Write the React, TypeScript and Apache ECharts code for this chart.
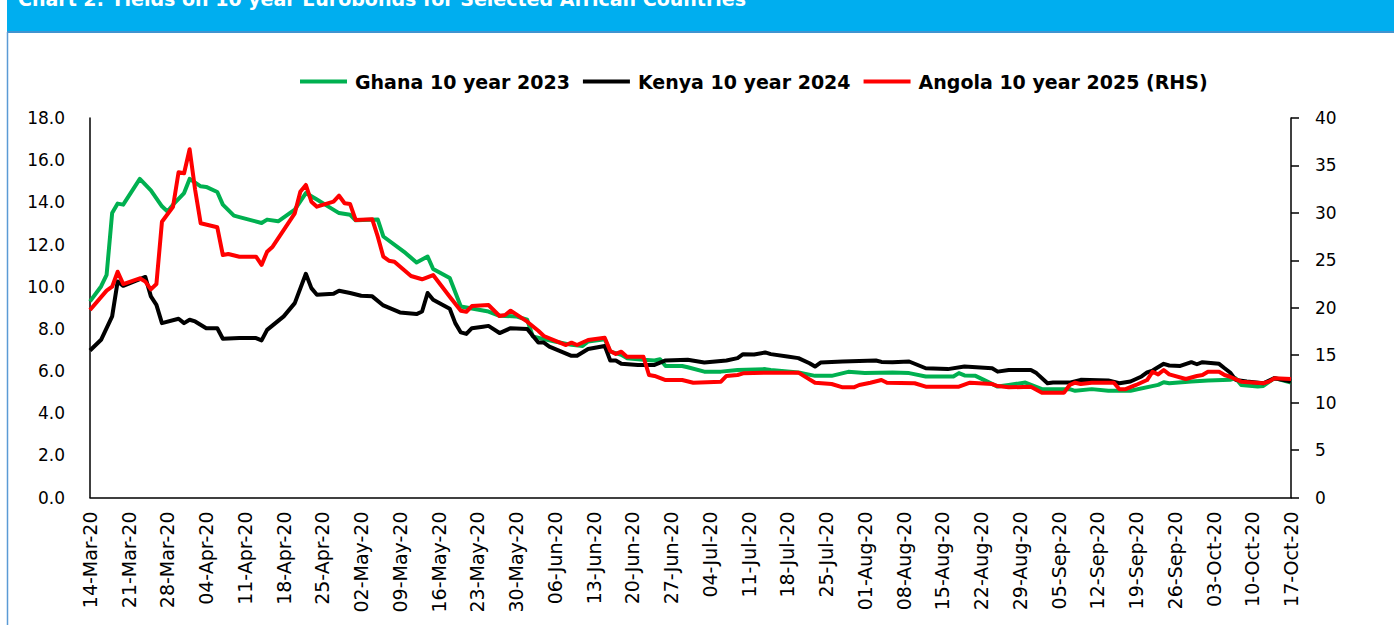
import React, { useEffect, useRef } from "react";
import * as echarts from "echarts";

// ---- categories (daily, 14-Mar-20 .. 17-Oct-20) ----
const MONTHS = ["Jan", "Feb", "Mar", "Apr", "May", "Jun", "Jul", "Aug", "Sep", "Oct", "Nov", "Dec"];
const START_UTC = Date.UTC(2020, 2, 14);
const N_DAYS = 218;
const categories: string[] = [];
for (let i = 0; i < N_DAYS; i++) {
  const d = new Date(START_UTC + i * 86400000);
  const dd = String(d.getUTCDate()).padStart(2, "0");
  categories.push(`${dd}-${MONTHS[d.getUTCMonth()]}-20`);
}

const seriesNames = ["Ghana 10 year 2023", "Kenya 10 year 2024", "Angola 10 year 2025 (RHS)"];

// [day index from 14-Mar-20, yield]
const ghana: [number, number][] = [
  [0, 9.3], [2, 10.01], [3, 10.56], [4, 13.49], [5, 13.94], [6, 13.89], [9, 15.11], [11, 14.57],
  [13, 13.81], [14, 13.57], [15, 13.89], [17, 14.44], [18, 15.11], [20, 14.76], [21, 14.73],
  [23, 14.49], [24, 13.89], [26, 13.37], [27, 13.3], [31, 13.02], [32, 13.18], [34, 13.1],
  [37, 13.65], [39, 14.44], [41, 14.13], [43, 13.81], [45, 13.49], [47, 13.41], [48, 13.15],
  [52, 13.18], [53, 12.38], [57, 11.6], [59, 11.15], [61, 11.43], [62, 10.84], [65, 10.41],
  [67, 9.06], [71, 8.87], [72, 8.82], [74, 8.62], [77, 8.59], [79, 8.43], [80, 7.64], [82, 7.51],
  [84, 7.4], [87, 7.24], [89, 7.19], [90, 7.4], [93, 7.51], [94, 6.92], [96, 6.77], [97, 6.61],
  [100, 6.53], [102, 6.5], [103, 6.56], [104, 6.24], [107, 6.24], [108, 6.18], [111, 5.97],
  [114, 5.97], [117, 6.05], [122, 6.09], [123, 6.05], [128, 5.93], [131, 5.77], [134, 5.77],
  [137, 5.96], [140, 5.9], [145, 5.93], [148, 5.9], [151, 5.74], [156, 5.74], [157, 5.9],
  [158, 5.79], [160, 5.77], [164, 5.26], [166, 5.34], [169, 5.45], [172, 5.14], [177, 5.14],
  [178, 5.06], [181, 5.14], [184, 5.06], [188, 5.06], [193, 5.34], [194, 5.47], [195, 5.42],
  [199, 5.5], [202, 5.55], [206, 5.58], [207, 5.66], [208, 5.34], [211, 5.26], [212, 5.29],
  [214, 5.66], [217, 5.45],
];

const kenya: [number, number][] = [
  [0, 6.97], [2, 7.48], [4, 8.59], [5, 10.25], [6, 10.04], [10, 10.46], [11, 9.54], [12, 9.14],
  [13, 8.27], [16, 8.48], [17, 8.27], [18, 8.43], [19, 8.35], [21, 8.03], [23, 8.03], [24, 7.53],
  [27, 7.56], [30, 7.56], [31, 7.45], [32, 7.95], [35, 8.59], [37, 9.22], [39, 10.61], [40, 9.93],
  [41, 9.62], [44, 9.66], [45, 9.81], [47, 9.7], [49, 9.57], [51, 9.54], [53, 9.11], [56, 8.78],
  [59, 8.7], [60, 8.82], [61, 9.7], [62, 9.38], [65, 8.95], [66, 8.27], [67, 7.83], [68, 7.76],
  [69, 8.03], [71, 8.1], [72, 8.14], [74, 7.8], [76, 8.03], [79, 7.99], [81, 7.35], [82, 7.35],
  [83, 7.16], [87, 6.72], [88, 6.72], [90, 7.04], [93, 7.19], [94, 6.5], [95, 6.5], [96, 6.34],
  [99, 6.29], [102, 6.29], [104, 6.5], [108, 6.53], [111, 6.4], [115, 6.5], [117, 6.61],
  [118, 6.8], [120, 6.78], [122, 6.88], [123, 6.8], [126, 6.69], [128, 6.61], [130, 6.37],
  [131, 6.21], [132, 6.4], [136, 6.45], [139, 6.47], [142, 6.5], [143, 6.43], [145, 6.42],
  [148, 6.45], [151, 6.13], [155, 6.09], [158, 6.21], [163, 6.13], [164, 5.97], [166, 6.05],
  [170, 6.05], [171, 5.9], [173, 5.42], [174, 5.45], [177, 5.45], [179, 5.58], [184, 5.55],
  [186, 5.42], [188, 5.5], [190, 5.74], [191, 5.93], [192, 6.02], [194, 6.34], [195, 6.26],
  [197, 6.24], [199, 6.42], [200, 6.32], [201, 6.42], [204, 6.34], [205, 6.13], [206, 5.93],
  [207, 5.58], [209, 5.5], [212, 5.42], [214, 5.66], [215, 5.61], [217, 5.5],
];

const angola: [number, number][] = [
  [0, 19.76], [3, 21.8], [4, 22.22], [5, 23.8], [6, 22.5], [9, 23.1], [10, 22.75], [11, 21.94],
  [12, 22.5], [13, 29.07], [15, 30.65], [16, 34.28], [17, 34.17], [18, 36.7], [19, 32.41],
  [20, 28.9], [23, 28.48], [24, 25.56], [25, 25.67], [27, 25.38], [30, 25.38], [31, 24.51],
  [32, 25.91], [33, 26.44], [37, 29.95], [38, 32.23], [39, 32.94], [40, 31.18], [41, 30.65],
  [44, 31.18], [45, 31.81], [46, 31.01], [47, 30.93], [48, 29.25], [51, 29.32], [52, 27.49],
  [53, 25.38], [54, 24.96], [55, 24.85], [58, 23.35], [60, 23.0], [62, 23.45], [65, 21.16],
  [67, 19.69], [68, 19.58], [69, 20.18], [72, 20.29], [74, 19.13], [75, 19.24], [76, 19.69],
  [79, 18.53], [81, 17.58], [82, 17.02], [84, 16.53], [86, 16.07], [87, 16.32], [88, 16.07],
  [90, 16.6], [93, 16.84], [94, 15.44], [95, 15.13], [96, 15.37], [97, 14.84], [100, 14.84],
  [101, 12.91], [102, 12.81], [104, 12.38], [107, 12.38], [109, 12.1], [114, 12.21], [115, 12.81],
  [117, 12.91], [118, 13.09], [123, 13.16], [128, 13.16], [131, 12.1], [134, 11.96], [136, 11.61],
  [138, 11.61], [139, 11.86], [141, 12.1], [143, 12.38], [144, 12.1], [149, 12.04], [151, 11.68],
  [157, 11.68], [159, 12.1], [163, 11.96], [164, 11.75], [166, 11.61], [170, 11.68], [172, 11.05],
  [176, 11.05], [177, 11.86], [178, 12.1], [179, 11.96], [181, 12.1], [185, 12.1], [186, 11.4],
  [187, 11.4], [189, 11.86], [191, 12.38], [192, 13.26], [193, 12.98], [194, 13.44], [195, 12.98],
  [198, 12.49], [200, 12.81], [201, 12.91], [202, 13.26], [204, 13.26], [205, 12.91], [206, 12.73],
  [208, 12.21], [212, 12.04], [213, 12.21], [214, 12.56], [217, 12.49],
];

const colors = ["#00B050", "#000000", "#FF0000"];
const FONT = "DejaVu Sans";
const TITLE = "Chart 2: Yields on 10 year Eurobonds for Selected African Countries";

export default function App() {
  const ref = useRef<HTMLDivElement>(null);
  useEffect(() => {
    if (!ref.current) return;
    const chart = echarts.init(ref.current, null, { renderer: "svg" });
    const datasets = [ghana, kenya, angola];
    chart.setOption({
      animation: false,
      backgroundColor: "#ffffff",
      textStyle: { fontFamily: FONT },
      graphic: [
        { type: "rect", shape: { x: 7, y: 0, width: 1387, height: 31 }, style: { fill: "#00AEEF" }, z: 0 },
        {
          type: "text", x: 18, y: 8,
          style: { text: TITLE, fill: "#ffffff", font: `bold 19px "${FONT}"`, verticalAlign: "bottom" },
          z: 1,
        },
        { type: "line", shape: { x1: 7, y1: 32, x2: 1394, y2: 32 }, style: { stroke: "#0070C0", lineWidth: 1.5 } },
        { type: "line", shape: { x1: 7.5, y1: 32, x2: 7.5, y2: 625 }, style: { stroke: "#5B9BD5", lineWidth: 1.5 } },
      ],
      legend: {
        data: seriesNames,
        left: 295,
        top: 67,
        icon: "rect",
        itemWidth: 47,
        itemHeight: 4,
        itemGap: 13,
        textStyle: { fontSize: 19, fontWeight: "bold", color: "#000", fontFamily: FONT, padding: [0, 0, 0, 3] },
      },
      grid: { left: 90, right: 103, top: 118, bottom: 127.5 },
      xAxis: {
        type: "category",
        data: categories,
        boundaryGap: false,
        axisLine: { lineStyle: { color: "#000", width: 1.5 } },
        axisTick: { show: false },
        splitLine: { show: false },
        axisLabel: { interval: 6, rotate: 90, fontSize: 19, color: "#000", margin: 14, fontFamily: FONT },
      },
      yAxis: [
        {
          type: "value", min: 0, max: 18, interval: 2,
          axisLine: { show: true, lineStyle: { color: "#000", width: 1.5 } },
          axisTick: { show: false },
          splitLine: { show: false },
          axisLabel: { formatter: (v: number) => v.toFixed(1), fontSize: 17, color: "#000", margin: 25, fontFamily: FONT },
        },
        {
          type: "value", position: "right", min: 0, max: 40, interval: 5,
          axisLine: { show: true, lineStyle: { color: "#000", width: 1.5 } },
          axisTick: { show: true, length: 8, lineStyle: { color: "#000", width: 1.5 } },
          splitLine: { show: false },
          axisLabel: { fontSize: 17, color: "#000", margin: 24, fontFamily: FONT },
        },
      ],
      series: seriesNames.map((name, i) => ({
        name,
        type: "line",
        yAxisIndex: i === 2 ? 1 : 0,
        data: datasets[i],
        showSymbol: false,
        symbol: "none",
        color: colors[i],
        lineStyle: { width: 4, color: colors[i], join: "round" },
        itemStyle: { color: colors[i] },
      })),
    });
    return () => chart.dispose();
  }, []);
  return <div ref={ref} style={{ position: "absolute", left: 0, top: 0, width: 1394, height: 625 }} />;
}
